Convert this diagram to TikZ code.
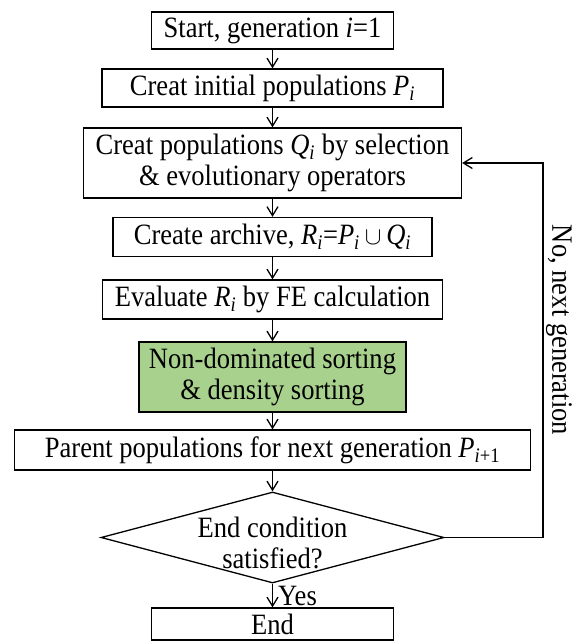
\documentclass[tikz,border=0pt]{standalone}
\usepackage{fontspec}
\setmainfont{Liberation Serif}[FakeStretch=0.9]
\usetikzlibrary{arrows.meta,shapes.geometric}
\definecolor{sortgreen}{RGB}{169,209,142}
\newcommand{\isub}{\textsubscript{\textit{i}}}
\begin{document}
\begin{tikzpicture}[x=1pt,y=-1pt,
  every node/.style={font=\fontsize{29.5}{31}\selectfont},
  box/.style={draw, line width=1.3pt, inner sep=0pt, align=center},
  flow/.style={line width=1.3pt, -{Straight Barb[length=9pt,width=11pt,line width=1.3pt]}},
]
\useasboundingbox (0,0) rectangle (576,641);

% process boxes, top to bottom
\node[box, minimum width=242pt, minimum height=37pt] (start) at (272.5,30.5)
  {Start, generation \textit{i}=1};
\node[box, minimum width=341pt, minimum height=38pt] (init) at (272.5,88)
  {Creat initial populations \textit{P}\isub};
\node[box, minimum width=378pt, minimum height=70pt] (offspring) at (272.5,163)
  {Creat populations \textit{Q}\isub{} by selection\\\& evolutionary operators};
\node[box, minimum width=319pt, minimum height=39pt] (archive) at (272.5,237)
  {Create archive, \textit{R}\isub=\textit{P}\isub\,$\cup$\,\textit{Q}\isub};
\node[box, minimum width=340pt, minimum height=39pt] (evaluate) at (272.5,299.5)
  {Evaluate \textit{R}\isub{} by FE calculation};
\node[box, fill=sortgreen, minimum width=267pt, minimum height=70pt] (sorting) at (272.5,377)
  {Non-dominated sorting\\\& density sorting};
\node[box, minimum width=516pt, minimum height=40pt] (parent) at (272.5,450)
  {Parent populations for next generation \textit{P}\textsubscript{\textit{i}+1}};

% decision
\node[draw, diamond, line width=1.3pt, minimum width=343pt, minimum height=91pt, inner sep=0pt]
  (cond) at (272.5,537.5) {};
\node[align=center, inner sep=0pt] (condtext) at ([yshift=-5pt]cond.center)
  {End condition\\satisfied?};

\node[box, minimum width=242pt, minimum height=32pt] (stop) at (272.5,624) {End};

% main flow
\draw[flow] (start) -- (init);
\draw[flow] (init) -- (offspring);
\draw[flow] (offspring) -- (archive);
\draw[flow] (archive) -- (evaluate);
\draw[flow] (evaluate) -- (sorting);
\draw[flow] (sorting) -- (parent);
\draw[flow] (parent) -- (cond);
\draw[flow] (cond) -- (stop);
\node[anchor=base west, inner sep=0pt] (yes) at (278,605) {Yes};

% loop back for the next generation
\coordinate (loop) at (543,537.5);
\draw[flow] (cond.east) -- (loop) |- (offspring.east);
\node[rotate=-90, inner sep=0pt] (nolabel) at (559,330) {No, next generation};
\end{tikzpicture}
\end{document}
